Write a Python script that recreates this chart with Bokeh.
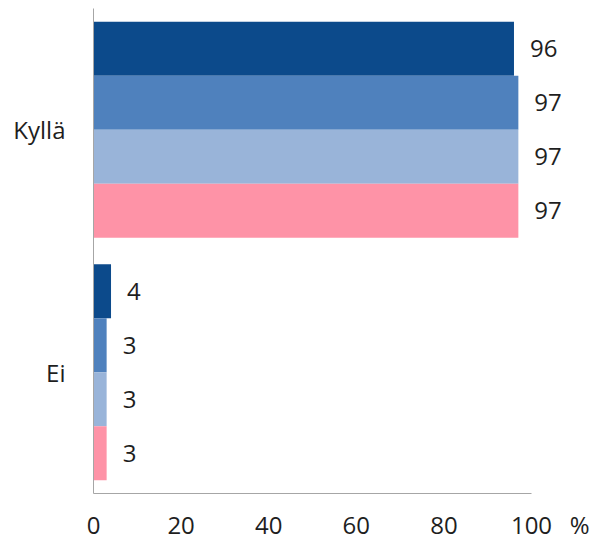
from bokeh.plotting import figure
from bokeh.models import ColumnDataSource, FactorRange, Range1d, FixedTicker, LinearAxis
from bokeh.transform import dodge
from bokeh.core.properties import value
from bokeh.embed import file_html
from bokeh.resources import INLINE

categories = ["Kyllä", "Ei"]
series_names = ["Sarja 1", "Sarja 2", "Sarja 3", "Sarja 4"]
series_1 = [96, 4]
series_2 = [97, 3]
series_3 = [97, 3]
series_4 = [97, 3]
all_series = [series_1, series_2, series_3, series_4]
colors = ["#0C4A8B", "#4F81BD", "#99B4D9", "#FE93A7"]
offsets = [0.334, 0.111, -0.111, -0.334]
x_ticks = [0, 20, 40, 60, 80, 100]
unit_label = "%"
unit_pos = 111

FONT = "Open Sans"
TXT = "#1E1E1E"

p = figure(width=592, height=543,
           y_range=FactorRange(factors=list(reversed(categories))),
           x_range=Range1d(0, 112.1),
           x_axis_location=None,
           output_backend="svg", toolbar_location=None,
           min_border_left=93, min_border_right=8,
           min_border_top=8, min_border_bottom=50)
p.outline_line_color = None
p.xgrid.visible = False
p.ygrid.visible = False
p.background_fill_color = "white"
p.border_fill_color = "white"

for name, vals, col, off in zip(series_names, all_series, colors, offsets):
    src = ColumnDataSource(dict(cat=categories, val=vals,
                                lab=[str(v) for v in vals]))
    yy = dodge("cat", off, range=p.y_range)
    p.hbar(y=yy, left=0, right="val", height=0.2227, source=src,
           fill_color=col, line_color=None)
    p.text(x="val", y=yy, text="lab", source=src, x_offset=16,
           text_baseline="middle", text_align="left",
           text_font=value(FONT), text_font_size="24px", text_color=TXT)

# axis line (0..100) without labels
x_line = LinearAxis(ticker=FixedTicker(ticks=[]), bounds=(0, 100))
x_line.axis_line_color = "#A6A6A6"
x_line.major_tick_line_color = None
x_line.minor_tick_line_color = None
x_line.major_tick_out = 0
x_line.major_tick_in = 0
x_line.major_label_standoff = 0
x_line.axis_label_standoff = 0
p.add_layout(x_line, "below")

# tick labels incl. unit
x_lab = LinearAxis(ticker=FixedTicker(ticks=x_ticks + [unit_pos]),
                   major_label_overrides={unit_pos: unit_label})
x_lab.axis_line_color = None
x_lab.major_tick_line_color = None
x_lab.minor_tick_line_color = None
x_lab.major_tick_out = 0
x_lab.major_tick_in = 0
x_lab.major_label_standoff = 14
x_lab.axis_label_standoff = 0
x_lab.major_label_text_font = FONT
x_lab.major_label_text_font_size = "24px"
x_lab.major_label_text_color = TXT
p.add_layout(x_lab, "below")

ya = p.yaxis[0]
ya.axis_line_color = "#A6A6A6"
ya.major_tick_line_color = None
ya.minor_tick_line_color = None
ya.major_tick_out = 0
ya.major_tick_in = 0
ya.major_label_text_font = FONT
ya.major_label_text_font_size = "24px"
ya.major_label_text_color = TXT
ya.major_label_standoff = 28

open("out.html", "w").write(file_html(p, INLINE))
